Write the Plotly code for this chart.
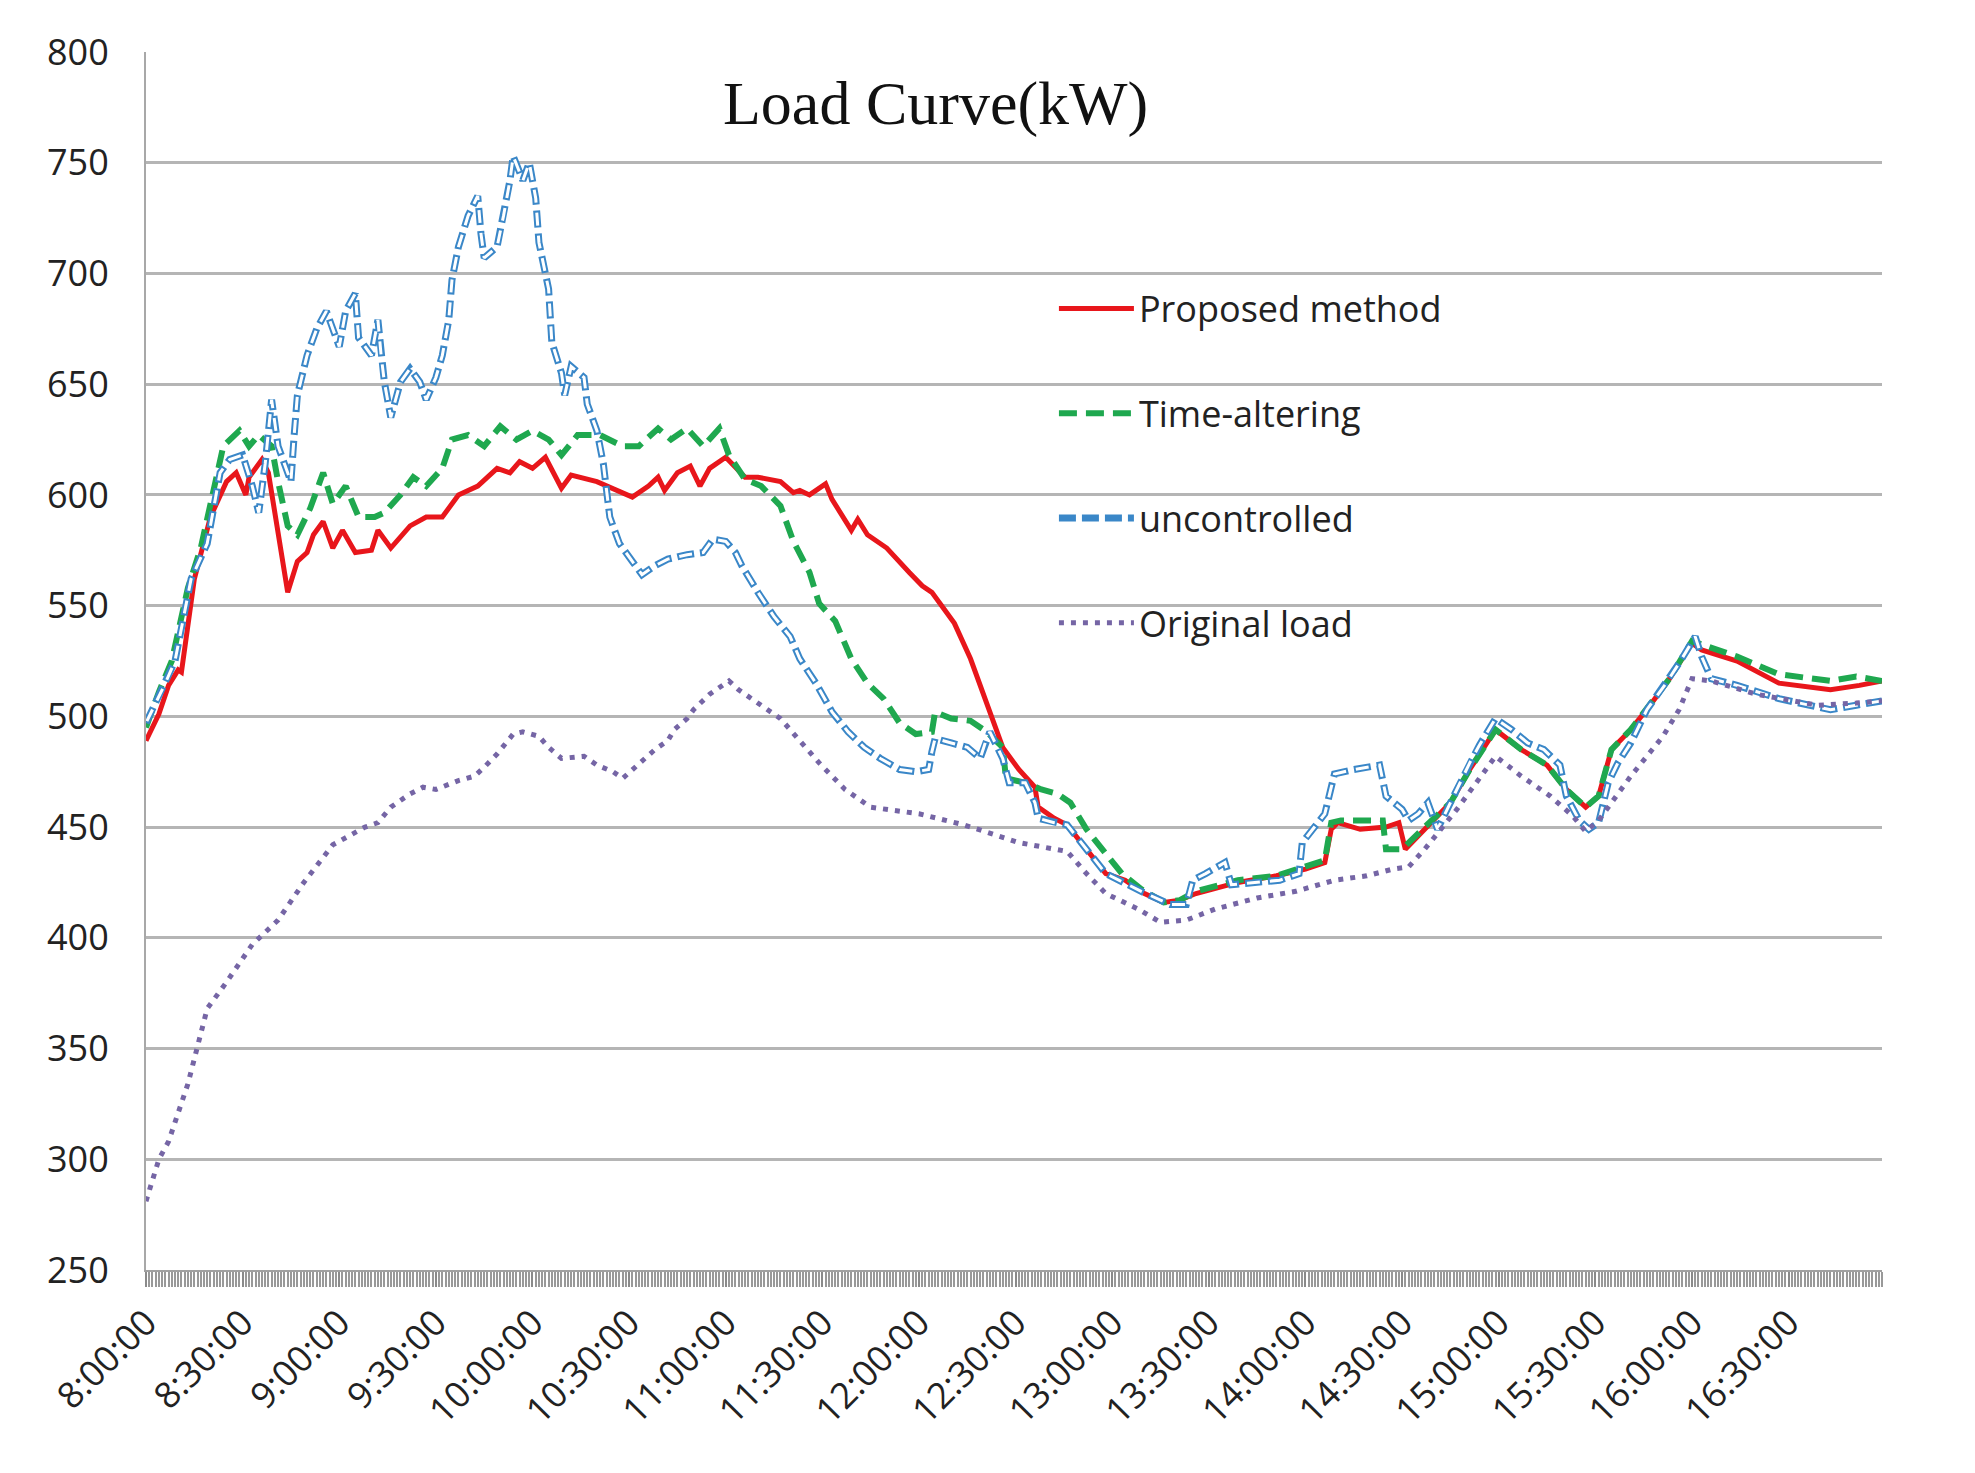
import plotly.graph_objects as go
import pandas as pd

# ---------------- data (minutes after 8:00, kW) ----------------
prop_min = [0, 4, 7, 10, 11, 15, 20, 25, 28, 31, 32, 36, 38, 41, 44, 47, 50, 52, 55, 58, 61, 65, 70, 72, 76, 82, 87,
            92, 97, 103, 109, 113, 116, 120, 124, 129, 132, 140, 146, 151, 156, 159, 161, 165, 169, 172, 175, 180,
            186, 190, 197, 201, 203, 206, 211, 213, 219, 221, 224, 230, 237, 241, 244, 251, 256, 261, 266, 271,
            276, 277, 282, 286, 292, 298, 304, 310, 316, 321, 326, 339, 351, 360, 366, 368, 370, 377, 385, 389,
            391, 397, 405, 411, 419, 427, 435, 441, 447, 451, 455, 461, 467, 473, 480, 483, 494, 507, 523, 532, 539]
prop_val = [489, 501, 514, 521, 520, 562, 590, 606, 610, 600, 608, 616, 610, 582, 556, 570, 574, 582, 588, 576, 584,
            574, 575, 584, 576, 586, 590, 590, 600, 604, 612, 610, 615, 612, 617, 603, 609, 606, 602, 599, 604, 608,
            602, 610, 613, 604, 612, 617, 608, 608, 606, 601, 602, 600, 605, 598, 584, 589, 582, 576, 565, 559, 556,
            542, 526, 506, 486, 476, 468, 459, 454, 451, 440, 429, 426, 420, 416, 417, 420, 425, 428, 431, 434, 449,
            452, 449, 450, 452, 440, 449, 461, 476, 494, 485, 478, 467, 459, 464, 485, 494, 505, 517, 533, 530, 525,
            515, 512, 514, 516]

time_min = [0, 4, 8, 13, 17, 21, 24, 29, 32, 35, 39, 41, 44, 47, 51, 55, 58, 62, 66, 71, 74, 79, 83, 87, 92, 95, 100,
            105, 110, 115, 120, 125, 129, 134, 141, 148, 153, 159, 163, 168, 173, 178, 181, 186, 191, 197, 201, 206,
            209, 214, 219, 224, 229, 234, 239, 244, 245, 250, 256, 261, 266, 267, 273, 278, 283, 287, 292, 298, 303,
            309, 316, 321, 326, 339, 351, 366, 368, 371, 377, 384, 385, 390, 397, 405, 411, 419, 427, 435, 441, 447,
            451, 455, 461, 467, 473, 480, 494, 507, 523, 531, 539]
time_val = [495, 511, 525, 558, 576, 602, 622, 629, 622, 627, 622, 606, 586, 582, 594, 610, 596, 604, 590, 590, 592,
            600, 608, 604, 612, 625, 627, 622, 631, 625, 629, 625, 618, 627, 627, 622, 622, 630, 625, 630, 622, 630,
            618, 607, 604, 595, 579, 565, 551, 543, 526, 515, 508, 497, 492, 493, 502, 499, 498, 493, 486, 472, 470,
            467, 465, 461, 449, 438, 429, 422, 416, 417, 421, 426, 428, 435, 452, 453, 453, 453, 440, 440, 450, 461,
            476, 494, 485, 478, 467, 459, 464, 485, 494, 505, 517, 534, 527, 519, 516, 518, 516]

unc_min = [0, 6, 9, 14, 19, 23, 26, 30, 33, 35, 37, 39, 41, 42, 45, 46, 47, 50, 53, 56, 58, 60, 62, 65, 66, 70, 72,
           73, 74, 76, 79, 82, 85, 87, 90, 92, 94, 95, 97, 100, 103, 104, 105, 109, 111, 113, 114, 117, 119, 121,
           122, 125, 126, 129, 130, 132, 136, 137, 140, 142, 144, 147, 151, 154, 158, 162, 168, 173, 176, 180, 183,
           185, 190, 195, 200, 203, 208, 213, 218, 223, 228, 234, 239, 243, 244, 245, 250, 255, 259, 261, 262, 266,
           268, 273, 276, 277, 282, 286, 292, 298, 309, 318, 323, 325, 329, 335, 337, 345, 352, 358, 359, 366, 368,
           369, 375, 383, 385, 390, 392, 395, 398, 401, 406, 411, 414, 419, 424, 429, 434, 439, 441, 445, 448, 451,
           454, 457, 461, 466, 472, 476, 481, 483, 486, 494, 507, 523, 531, 539]
unc_val = [497, 515, 525, 562, 578, 610, 616, 618, 604, 592, 614, 643, 622, 618, 606, 627, 645, 663, 675, 683, 675,
           667, 683, 691, 671, 663, 679, 663, 651, 635, 651, 657, 651, 643, 653, 663, 679, 697, 712, 726, 735, 718,
           707, 712, 726, 742, 753, 742, 750, 734, 714, 693, 669, 655, 645, 658, 653, 641, 629, 614, 590, 578, 570,
           564, 568, 571, 573, 574, 580, 579, 574, 568, 556, 545, 536, 526, 515, 502, 493, 486, 481, 476, 475, 476,
           484, 490, 488, 486, 481, 490, 493, 481, 470, 470, 461, 454, 452, 451, 440, 429, 421, 415, 415, 426, 429,
           434, 424, 425, 426, 429, 443, 456, 468, 474, 476, 478, 464, 458, 453, 456, 461, 449, 464, 479, 487, 499,
           494, 488, 485, 478, 464, 453, 449, 452, 470, 479, 488, 503, 515, 524, 536, 527, 517, 514, 508, 503, 505,
           507]

orig_min = [0, 4, 7, 13, 19, 25, 33, 41, 49, 58, 68, 72, 76, 82, 86, 90, 97, 102, 105, 109, 114, 117, 122, 125, 129,
            136, 140, 145, 148, 152, 156, 158, 162, 164, 168, 170, 175, 181, 184, 188, 197, 209, 217, 225, 240, 254,
            271, 286, 292, 298, 308, 315, 323, 332, 345, 357, 369, 379, 387, 392, 397, 407, 414, 419, 427, 436, 443,
            447, 451, 461, 471, 476, 480, 486, 500, 519, 531, 539]
orig_val = [281, 300, 308, 334, 368, 380, 397, 408, 425, 442, 450, 452, 459, 465, 468, 467, 471, 473, 477, 483, 492,
            493, 491, 486, 481, 482, 478, 475, 472, 477, 482, 485, 489, 494, 499, 503, 510, 516, 512, 508, 499, 479,
            467, 459, 456, 451, 443, 439, 429, 420, 413, 407, 408, 413, 418, 421, 426, 428, 431, 432, 440, 458, 472,
            482, 473, 464, 455, 448, 453, 473, 491, 503, 517, 516, 510, 505, 506, 507]

series_names = ["Proposed method", "Time-altering", "uncontrolled", "Original load"]
y_ticks = [250, 300, 350, 400, 450, 500, 550, 600, 650, 700, 750, 800]

# ---------------- figure ----------------
base = pd.Timestamp("2020-01-01 08:00:00")


def to_time(mins):
    return [base + pd.Timedelta(minutes=m) for m in mins]


FONT = "Open Sans"
fig = go.Figure()

fig.add_trace(go.Scatter(x=to_time(prop_min), y=prop_val, mode="lines", name=series_names[0],
                         legendgroup="g1", line=dict(color="#e8161b", width=5)))
fig.add_trace(go.Scatter(x=to_time(time_min), y=time_val, mode="lines", name=series_names[1],
                         legendgroup="g2", line=dict(color="#1fa84f", width=6, dash="18px,9px")))
fig.add_trace(go.Scatter(x=to_time(unc_min), y=unc_val, mode="lines", name=series_names[2],
                         legendgroup="g3", line=dict(color="#3a87c8", width=7, dash="17px,6px")))
fig.add_trace(go.Scatter(x=to_time(unc_min), y=unc_val, mode="lines", name=series_names[2],
                         legendgroup="g3", showlegend=False, hoverinfo="skip",
                         line=dict(color="#ffffff", width=3, dash="0px,2px,13px,8px")))
fig.add_trace(go.Scatter(x=to_time(orig_min), y=orig_val, mode="lines", name=series_names[3],
                         legendgroup="g4", line=dict(color="#7565a5", width=5, dash="5px,7px")))

fig.add_annotation(text="Load Curve(kW)", xref="paper", yref="paper", x=0.4545, y=0.958,
                   xanchor="center", yanchor="middle", showarrow=False,
                   font=dict(family="Liberation Serif", size=62, color="#111111"))

fig.update_layout(
    width=1975, height=1473,
    margin=dict(l=146, r=93, t=52, b=203),
    plot_bgcolor="white", paper_bgcolor="white",
    font=dict(family=FONT, size=36, color="#222222"),
    legend=dict(x=0.523, y=0.814, xanchor="left", yanchor="top", orientation="v",
                font=dict(family=FONT, size=36, color="#222222"),
                bgcolor="rgba(0,0,0,0)", tracegroupgap=55, itemwidth=75),
    showlegend=True,
)

fig.update_yaxes(range=[250, 800], tickvals=y_ticks, showgrid=True, gridcolor="#b5b5b5", gridwidth=2.5,
                 showline=True, linecolor="#a8a8a8", linewidth=2, zeroline=False, ticks="",
                 ticklabelstandoff=28, tickfont=dict(family=FONT, size=36, color="#222222"))

fig.update_xaxes(type="date", range=[base, base + pd.Timedelta(minutes=539)],
                 tick0=base, dtick=30 * 60 * 1000, tickformat="%-H:%M:%S", tickangle=-45,
                 showgrid=False, showline=True, linecolor="#a0a0a0", linewidth=2, zeroline=False,
                 ticks="outside", ticklen=15, tickcolor="#8a8a8a", tickwidth=1.5,
                 minor=dict(dtick=60 * 1000, ticks="outside", ticklen=15, tickcolor="#999999", tickwidth=1.5),
                 tickfont=dict(family=FONT, size=36, color="#222222"))

fig.write_html("out.html", config={"displayModeBar": False},
               post_script="document.body.style.margin='0';document.body.style.overflow='hidden';")
